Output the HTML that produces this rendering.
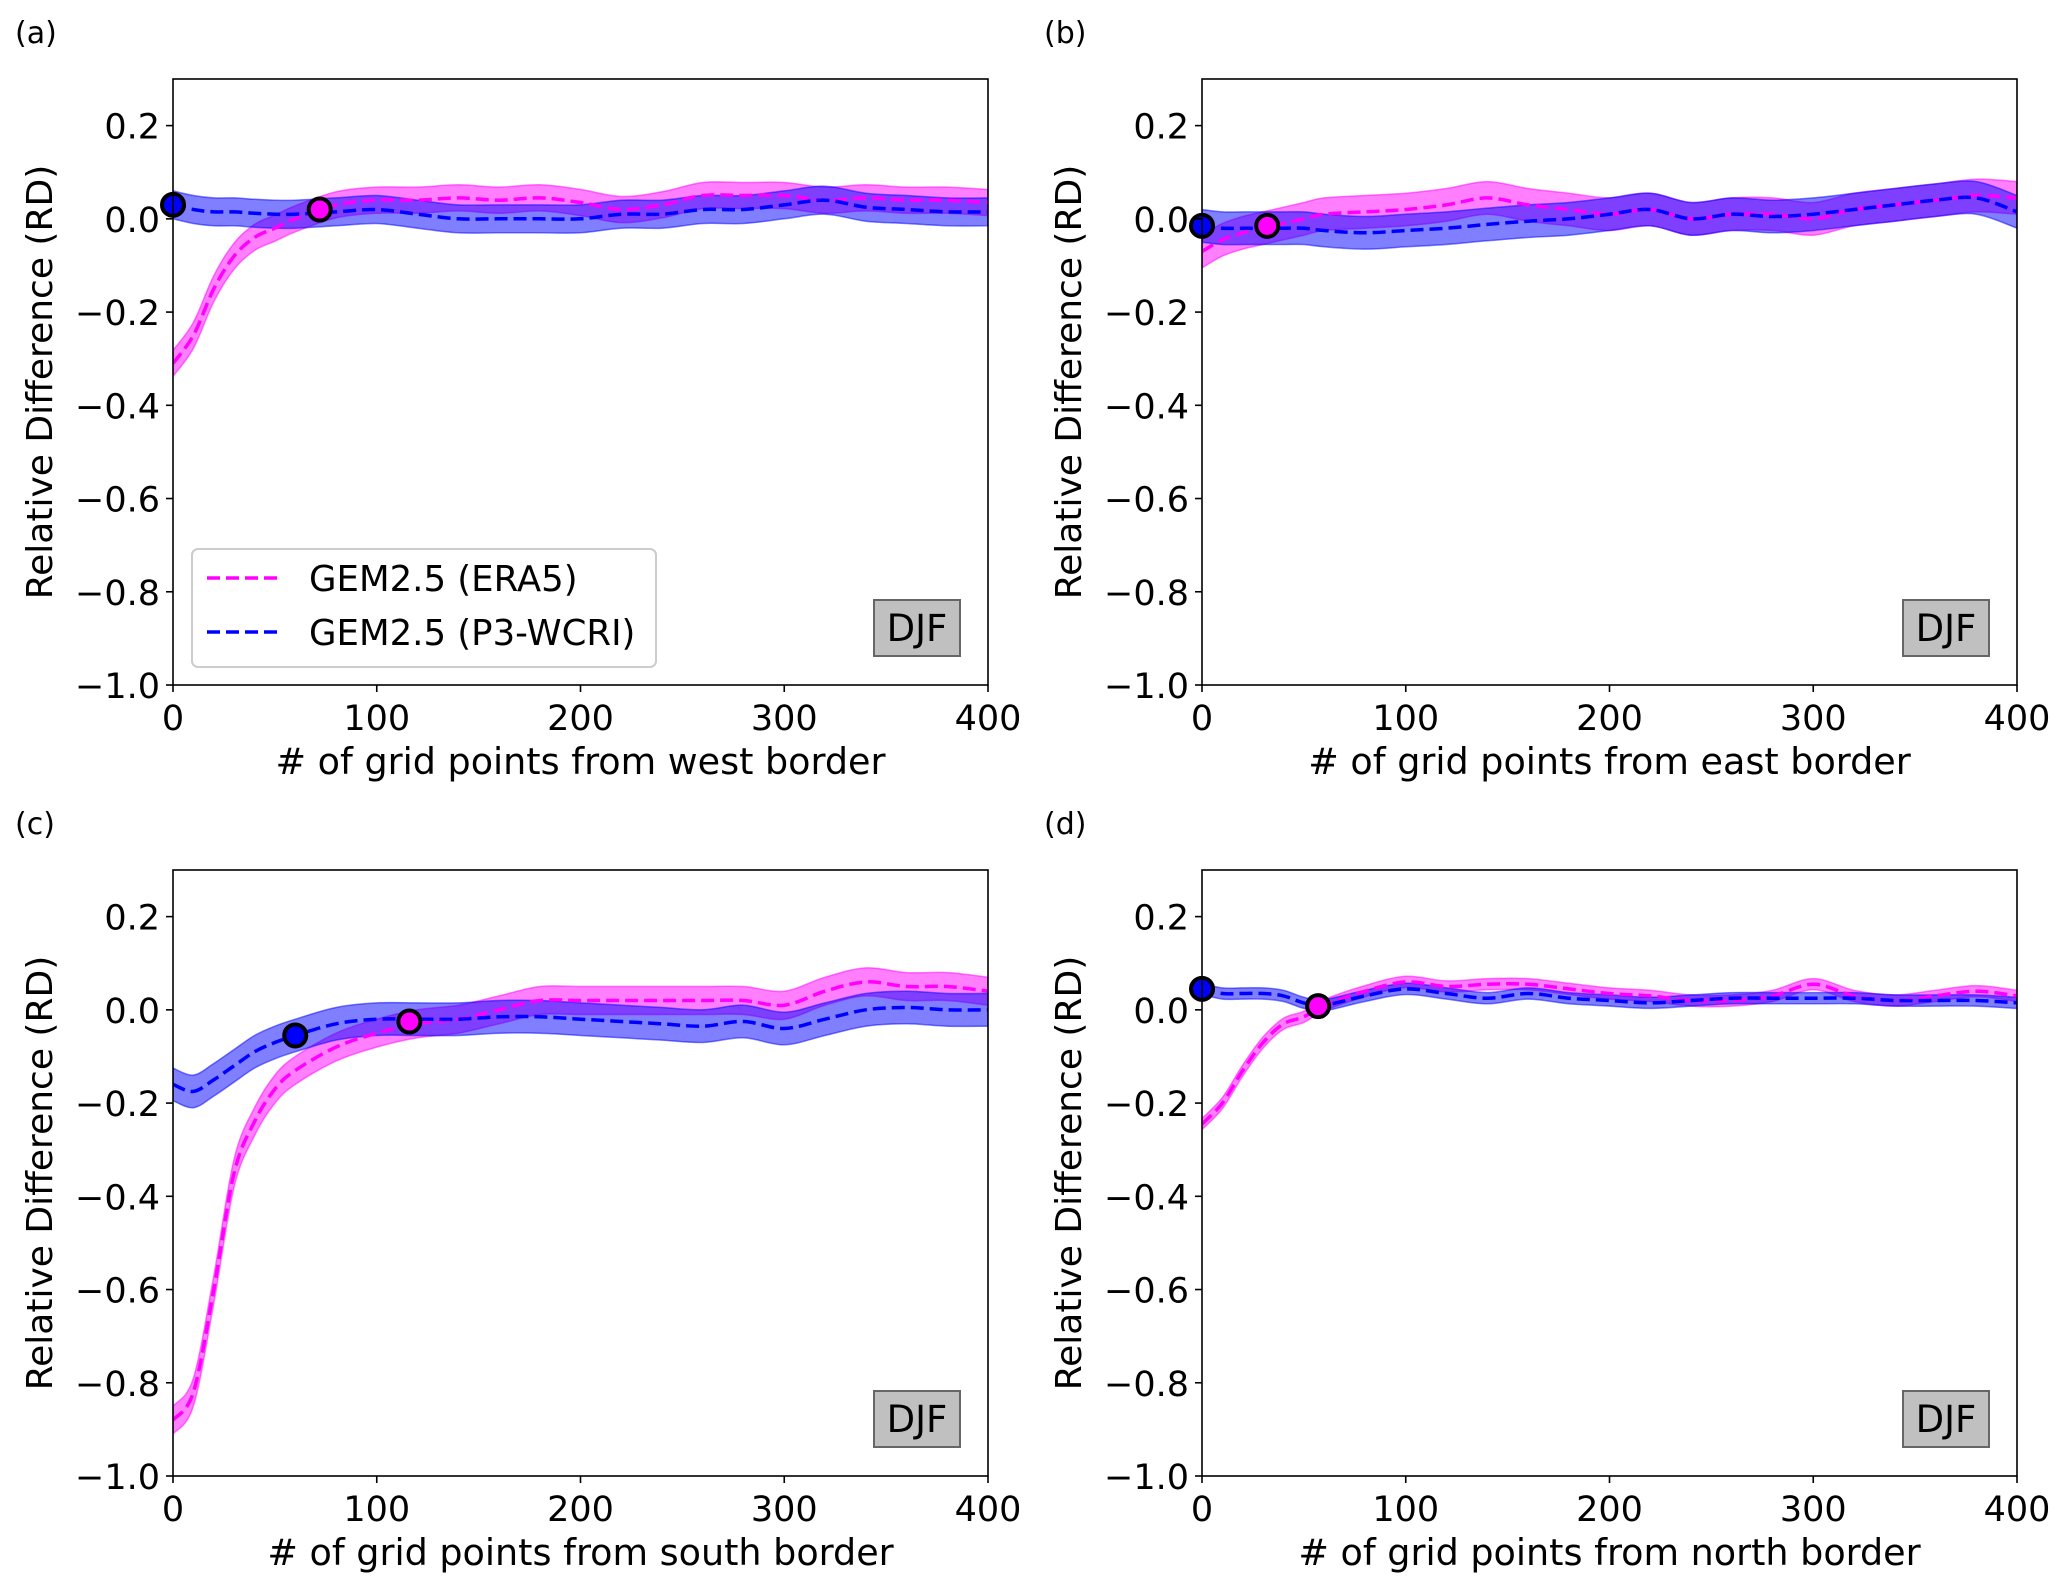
<!DOCTYPE html>
<html><head><meta charset="utf-8"><style>
html,body{margin:0;padding:0;background:#fff}
svg{display:block}
text{font-family:"DejaVu Sans","Liberation Sans",sans-serif;fill:#000}
</style></head><body>
<svg id="fig" width="2067" height="1590" viewBox="0 0 2067 1590" xmlns="http://www.w3.org/2000/svg"></svg>
<script>
const xs = [0,10,20,30,40,50,60,80,100,120,140,160,180,200,220,240,260,280,300,320,340,360,380,400];
const xTicks = [0,100,200,300,400];
const yTicks = [0.2,0.0,-0.2,-0.4,-0.6,-0.8,-1.0];
const yTickLabels = ["0.2","0.0","\u22120.2","\u22120.4","\u22120.6","\u22120.8","\u22121.0"];
const panelIds = ["a","b","c","d"];
const xLabels = ["# of grid points from west border","# of grid points from east border","# of grid points from south border","# of grid points from north border"];
const eraA = [-0.31,-0.25,-0.15,-0.08,-0.04,-0.02,0.0,0.03,0.04,0.04,0.045,0.04,0.045,0.035,0.02,0.03,0.05,0.05,0.05,0.04,0.045,0.04,0.04,0.035];
const p3A  = [0.03,0.02,0.015,0.015,0.012,0.01,0.01,0.015,0.02,0.01,0.0,0.0,0.0,0.0,0.01,0.01,0.02,0.02,0.03,0.04,0.025,0.02,0.015,0.015];
const eraB = [-0.07,-0.045,-0.03,-0.02,-0.01,0.0,0.01,0.015,0.02,0.03,0.045,0.03,0.02,0.01,0.02,0.0,0.01,0.01,0.0,0.02,0.03,0.04,0.05,0.045];
const p3B  = [-0.015,-0.02,-0.02,-0.02,-0.02,-0.02,-0.025,-0.03,-0.025,-0.02,-0.012,-0.005,0.0,0.01,0.02,0.0,0.01,0.005,0.01,0.02,0.03,0.04,0.045,0.015];
const eraC = [-0.88,-0.82,-0.6,-0.35,-0.24,-0.17,-0.13,-0.08,-0.05,-0.03,-0.02,0.0,0.02,0.02,0.02,0.02,0.02,0.02,0.01,0.04,0.06,0.05,0.05,0.04];
const p3C  = [-0.16,-0.175,-0.15,-0.12,-0.09,-0.07,-0.055,-0.03,-0.02,-0.02,-0.02,-0.015,-0.015,-0.02,-0.025,-0.03,-0.035,-0.025,-0.04,-0.02,0.0,0.005,0.0,0.0];
const eraD = [-0.245,-0.2,-0.13,-0.07,-0.03,-0.015,0.01,0.04,0.06,0.05,0.055,0.055,0.045,0.035,0.03,0.02,0.02,0.03,0.055,0.03,0.02,0.03,0.04,0.03];
const p3D  = [0.045,0.035,0.035,0.035,0.03,0.015,0.01,0.03,0.045,0.035,0.025,0.035,0.025,0.02,0.015,0.02,0.025,0.025,0.025,0.025,0.02,0.02,0.02,0.015];
const eraSeries = [eraA,eraB,eraC,eraD];
const p3Series = [p3A,p3B,p3C,p3D];
const eraSpread = [0.028,0.035,0.03,0.012];
const p3Spread = [0.03,0.035,0.035,0.012];
const eraMarkX = [72,32,116,57];
const eraMarkY = [0.02,-0.015,-0.025,0.008];
const p3MarkX = [0,0,60,0];
const p3MarkY = [0.03,-0.015,-0.055,0.045];

const NS="http://www.w3.org/2000/svg";
const svg=document.getElementById('fig');
function mk(tag,attrs,parent){const e=document.createElementNS(NS,tag);for(const k in attrs)e.setAttribute(k,attrs[k]);(parent||svg).appendChild(e);return e;}
const lefts=[173,1202,173,1202], tops=[79,79,870,870];
const W=815, H=606;

function smooth(pts){
  let d="M"+pts[0][0].toFixed(1)+","+pts[0][1].toFixed(1);
  for(let i=0;i<pts.length-1;i++){
    const p0=pts[Math.max(0,i-1)],p1=pts[i],p2=pts[i+1],p3=pts[Math.min(pts.length-1,i+2)];
    const c1=[p1[0]+(p2[0]-p0[0])/6,p1[1]+(p2[1]-p0[1])/6];
    const c2=[p2[0]-(p3[0]-p1[0])/6,p2[1]-(p3[1]-p1[1])/6];
    d+="C"+c1[0].toFixed(1)+","+c1[1].toFixed(1)+" "+c2[0].toFixed(1)+","+c2[1].toFixed(1)+" "+p2[0].toFixed(1)+","+p2[1].toFixed(1);
  }
  return d;
}
function smoothCont(pts){return smooth(pts).replace(/^M/,"L");}

for(let p=0;p<4;p++){
  const L=lefts[p],T=tops[p];
  const sx=v=>L+v/400*W;
  const sy=v=>T+(0.3-v)/1.3*H;
  const g=mk('g',{});
  
  
  const lab=mk('text',{x:L-158,y:T-36,'font-size':30},g);
  lab.textContent='('+panelIds[p]+')';
  
  
  const series=[[eraSeries[p],eraSpread[p],'#ff00ff','rgba(255,0,255,0.5)','era5'],[p3Series[p],p3Spread[p],'#0000ff','rgba(0,0,255,0.5)','p3-wcri']];
  const clip=mk('clipPath',{id:'clip'+p},g);
  mk('rect',{x:L,y:T,width:W,height:H},clip);
  const plotG=mk('g',{'clip-path':'url(#clip'+p+')'},g);
  for(const [vals,sp,col,fill,nm] of series){
    const up=xs.map((x,i)=>[sx(x),sy(vals[i]+sp)]);
    const lo=xs.map((x,i)=>[sx(x),sy(vals[i]-sp)]).reverse();
    const band=mk('path',{d:smooth(up)+smoothCont(lo)+"Z",fill:fill,stroke:col,'stroke-opacity':0.5,'stroke-width':1.5},plotG);
    
    
  }
  for(const [vals,sp,col,fill,nm] of series){
    const line=mk('path',{d:smooth(xs.map((x,i)=>[sx(x),sy(vals[i])])),fill:'none',stroke:col,'stroke-width':3.5,'stroke-dasharray':'13,6'},plotG);
    
    
  }
  const m1=mk('circle',{cx:sx(p3MarkX[p]),cy:sy(p3MarkY[p]),r:11,fill:'#0000ff',stroke:'#000','stroke-width':4},g);
  
  
  const m2=mk('circle',{cx:sx(eraMarkX[p]),cy:sy(eraMarkY[p]),r:11,fill:'#ff00ff',stroke:'#000','stroke-width':4},g);
  
  
  const fr=mk('rect',{x:L,y:T,width:W,height:H,fill:'none',stroke:'#000','stroke-width':1.6},g);
  
  
  xTicks.forEach(v=>{
    mk('line',{x1:sx(v),x2:sx(v),y1:T+H,y2:T+H+7,stroke:'#000','stroke-width':1.6},g);
    const t=mk('text',{x:sx(v),y:T+H+45,'font-size':35,'text-anchor':'middle'},g);
    t.textContent=v;
    
    
  });
  yTicks.forEach((v,i)=>{
    mk('line',{x1:L-7,x2:L,y1:sy(v),y2:sy(v),stroke:'#000','stroke-width':1.6},g);
    const t=mk('text',{x:L-13,y:sy(v)+13,'font-size':35,'text-anchor':'end'},g);
    t.textContent=yTickLabels[i];
    
    
  });
  const xl=mk('text',{x:L+W/2,y:T+H+89,'font-size':36.5,'text-anchor':'middle'},g);
  xl.textContent=xLabels[p];
  
  
  const yl=mk('text',{x:0,y:0,'font-size':36,'text-anchor':'middle',transform:'translate('+(L-121)+','+(T+H/2)+') rotate(-90)'},g);
  yl.textContent='Relative Difference (RD)';
  
  
  const db=mk('rect',{x:L+701,y:T+521,width:86,height:56,fill:'#c0c0c0',stroke:'#666','stroke-width':2},g);
  
  
  const dt=mk('text',{x:L+744,y:T+562,'font-size':37,'text-anchor':'middle'},g);
  dt.textContent='DJF';
  
  
  if(p===0){
    const lg=mk('g',{},g);
    
    
    mk('rect',{x:192,y:549,width:464,height:118,rx:6,fill:'#fff','fill-opacity':0.85,stroke:'#ccc','stroke-width':2},lg);
    const e1=mk('g',{},lg);
    
    
    mk('line',{x1:207,x2:280,y1:578,y2:578,stroke:'#ff00ff','stroke-width':3.5,'stroke-dasharray':'13,6'},e1);
    const t1=mk('text',{x:309,y:591,'font-size':35.5},e1);t1.textContent='GEM2.5 (ERA5)';
    const e2=mk('g',{},lg);
    
    
    mk('line',{x1:207,x2:280,y1:632,y2:632,stroke:'#0000ff','stroke-width':3.5,'stroke-dasharray':'13,6'},e2);
    const t2=mk('text',{x:309,y:645,'font-size':35.5},e2);t2.textContent='GEM2.5 (P3-WCRI)';
  }
}
</script>
</body></html>
